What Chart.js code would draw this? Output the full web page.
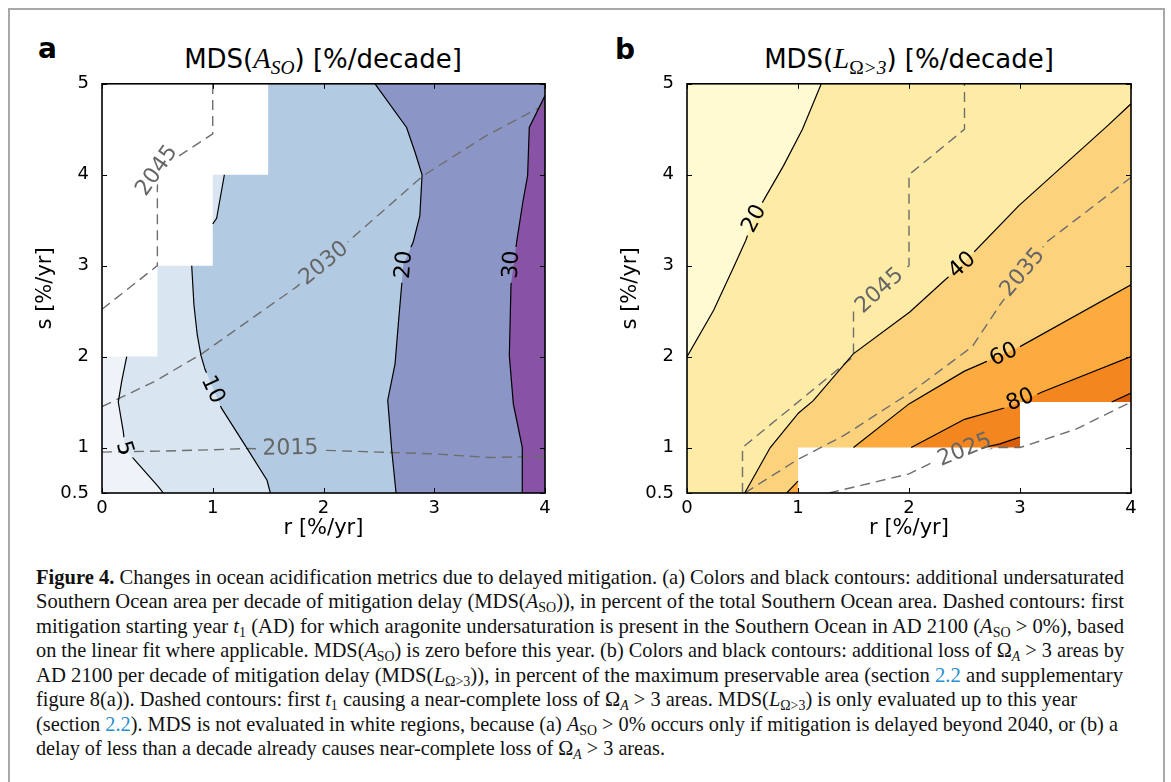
<!DOCTYPE html>
<html>
<head>
<meta charset="utf-8">
<script src="https://cdn.jsdelivr.net/npm/chart.js@4.4.1/dist/chart.umd.min.js"></script>
<style>
  body { margin: 0; width: 1171px; height: 782px; background: #fff; overflow: hidden; position: relative; font-family: 'DejaVu Sans', sans-serif; }
  .frame { position: absolute; left: 8px; top: 8px; width: 1157px; height: 900px; border: 2px solid #a8a8a8; box-sizing: border-box; }
  .letter { position: absolute; font: bold 28px 'DejaVu Sans'; line-height: 34px; }
  .title { position: absolute; width: 520px; text-align: center; font-size: 26px; line-height: 30px; white-space: nowrap; }
  .m { font-family: 'Liberation Serif', serif; font-style: italic; font-size: 1.1em; }
  .m sub { font-size: 0.68em; vertical-align: -0.3em; line-height: 0; }
  .up { font-style: normal; }
  canvas { position: absolute; }
  .caption { position: absolute; left: 36px; top: 565px; font-family: 'Liberation Serif', serif; font-size: 22px; line-height: 24.45px; color: #111; }
  .caption div { white-space: nowrap; width: max-content; transform-origin: 0 0; }
  .caption sub { font-size: 0.68em; vertical-align: -0.25em; line-height: 0; }
  .lk { color: #2a8fcb; }
</style>
</head>
<body>
<div class="frame"></div>
<div class="letter" style="left:38px; top:32px;">a</div>
<div class="letter" style="left:615px; top:33px;">b</div>
<div class="title" style="left:63px; top:44px;">MDS(<span class="m">A<sub>SO</sub></span>) [%/decade]</div>
<div class="title" style="left:649px; top:44px;">MDS(<span class="m">L<sub><span class="up">Ω</span>&gt;3</sub></span>) [%/decade]</div>
<canvas id="chartA" width="585" height="490" style="left:0px; top:60px;"></canvas>
<canvas id="chartB" width="586" height="490" style="left:585px; top:60px;"></canvas>

<div class="caption" id="caption">
<div data-w="1088"><b>Figure 4.</b> Changes in ocean acidification metrics due to delayed mitigation. (a) Colors and black contours: additional undersaturated</div>
<div data-w="1088">Southern Ocean area per decade of mitigation delay (MDS(<i>A</i><sub>SO</sub>)), in percent of the total Southern Ocean area. Dashed contours: first</div>
<div data-w="1088">mitigation starting year <i>t</i><sub>1</sub> (AD) for which aragonite undersaturation is present in the Southern Ocean in AD 2100 (<i>A</i><sub>SO</sub> &gt; 0%), based</div>
<div data-w="1088">on the linear fit where applicable. MDS(<i>A</i><sub>SO</sub>) is zero before this year. (b) Colors and black contours: additional loss of Ω<sub><i>A</i></sub> &gt; 3 areas by</div>
<div data-w="1087">AD 2100 per decade of mitigation delay (MDS(<i>L</i><sub>Ω&gt;3</sub>)), in percent of the maximum preservable area (section <span class="lk">2.2</span> and supplementary</div>
<div data-w="1041">figure 8(a)). Dashed contours: first <i>t</i><sub>1</sub> causing a near-complete loss of Ω<sub><i>A</i></sub> &gt; 3 areas. MDS(<i>L</i><sub>Ω&gt;3</sub>) is only evaluated up to this year</div>
<div data-w="1082">(section <span class="lk">2.2</span>). MDS is not evaluated in white regions, because (a) <i>A</i><sub>SO</sub> &gt; 0% occurs only if mitigation is delayed beyond 2040, or (b) a</div>
<div data-w="629">delay of less than a decade already causes near-complete loss of Ω<sub><i>A</i></sub> &gt; 3 areas.</div>
</div>

<script>
// axes
const rTicks = [0, 1, 2, 3, 4];
const sTicks = [0.5, 1, 2, 3, 4, 5];

// panel a: MDS(A_SO) contours at 5, 10, 20, 30 %/decade
const a05R = [0.554, 0.508, 0.283, 0.208, 0.193, 0.147, 0.178, 0.223];
const a05S = [0.5, 0.57, 0.88, 0.99, 1.17, 1.5, 1.73, 2.0];
const a10LowR = [1.52, 1.49, 1.31, 1.08, 0.93, 0.894, 0.86, 0.83, 0.81];
const a10LowS = [0.5, 0.64, 0.99, 1.43, 1.86, 2.01, 2.24, 2.57, 3.0];
const a10UpR = [1.0, 1.035, 1.105];
const a10UpS = [3.46, 3.52, 4.0];
const a20R = [2.655, 2.616, 2.58, 2.646, 2.675, 2.706, 2.72, 2.81, 2.87, 2.89, 2.826, 2.75, 2.465];
const a20S = [0.5, 0.97, 1.52, 1.92, 2.35, 2.79, 3.01, 3.26, 3.55, 4.0, 4.25, 4.52, 5.0];
const a30R = [3.8, 3.795, 3.714, 3.678, 3.693, 3.744, 3.8, 3.843, 3.858, 4.0];
const a30S = [0.5, 1.0, 1.48, 2.01, 2.79, 3.26, 3.7, 3.99, 4.52, 4.87];
// panel a: first mitigation year t1 (dashed)
const a2015R = [0, 0.5, 1.0, 1.3, 2.0, 2.5, 3.0, 3.5, 4.0];
const a2015S = [0.95, 0.96, 0.975, 0.99, 0.97, 0.95, 0.93, 0.89, 0.905];
const a2030R = [0, 0.48, 0.9, 1.76, 2.9, 3.47, 4.0];
const a2030S = [1.45, 1.73, 2.03, 2.77, 3.99, 4.43, 4.77];
const a2045R = [0, 0.5, 0.5, 1.0, 1.0];
const a2045S = [2.52, 3.0, 4.05, 4.45, 5.0];
// panel a: not evaluated
const aBlankR = [0, 0.5, 0.5, 1.0, 1.0, 1.5, 1.5, 0];
const aBlankS = [2, 2, 3, 3, 4, 4, 5, 5];
const aColors = ['#edf3f8', '#d9e6f1', '#b3cbe2', '#8c96c6', '#8853a5'];

// panel b: MDS(L_Omega>3) contours at 20, 40, 60, 80, 100 %/decade
const b20R = [0, 0.24, 0.43, 0.53, 0.6, 0.7, 0.87, 1.04, 1.21];
const b20S = [2.0, 2.51, 3.01, 3.28, 3.52, 3.74, 4.1, 4.5, 5.0];
const b40R = [0.52, 0.75, 1.005, 1.138, 1.498, 2.007, 2.475, 2.99, 3.79, 4.0];
const b40S = [0.5, 1.0, 1.38, 1.516, 2.03, 2.49, 3.01, 3.66, 4.54, 4.78];
const b60LowR = [0.898, 1.0];
const b60LowS = [0.5, 0.63];
const b60R = [1.5, 2.0, 2.5, 2.65, 3.0, 4.0];
const b60S = [1.0, 1.48, 1.84, 1.92, 2.11, 2.79];
const b80R = [2.02, 2.5, 2.93, 3.2, 4.0];
const b80S = [1.0, 1.31, 1.46, 1.61, 2.0];
const b100R = [2.67, 2.82, 3.0];
const b100S = [1.0, 1.04, 1.115];
const b100EdgeR = [3.826, 4.0];
const b100EdgeS = [1.5, 1.6];
// panel b: first t1 with near-complete loss (dashed)
const b2025R = [1.28, 2.0, 2.2, 2.5, 2.8, 3.0, 3.5, 4.0];
const b2025S = [0.5, 0.71, 0.83, 0.95, 1.0, 1.0, 1.2, 1.5];
const b2035R = [0.52, 1.0, 1.41, 2.02, 2.57, 2.82, 3.24, 4.0];
const b2035S = [0.5, 0.87, 1.13, 1.61, 2.11, 2.57, 3.26, 3.97];
const b2045R = [0.5, 0.5, 1.5, 1.5, 2.0, 2.0, 2.5, 2.5];
const b2045S = [0.5, 1.0, 2.0, 2.5, 3.0, 4.0, 4.5, 5.0];
// panel b: not evaluated
const bBlankR = [1, 4, 4, 3, 3, 1];
const bBlankS = [0.5, 0.5, 1.5, 1.5, 1, 1];
const bColors = ['#fffad2', '#feeba6', '#fdd27c', '#fdab3f', '#f3861f', '#da5f0d'];

const LINE = '#000';
const DASH = '#6e6e6e';

function pts(rs, ss) {
    return rs.map((r, i) => ({ x: r, y: ss[i] }));
}

const panelA = {
    base: aColors[0],
    fills: [
        { color: aColors[1], points: pts(a05R, a05S).concat(pts([0.223, 4, 4], [5, 5, 0.5])) },
        { color: aColors[2], points: pts(a10LowR, a10LowS).concat(pts(a10UpR, a10UpS), pts([1.105, 4, 4], [5, 5, 0.5])) },
        { color: aColors[3], points: pts(a20R, a20S).concat(pts([4, 4], [5, 0.5])) },
        { color: aColors[4], points: pts(a30R, a30S).concat(pts([4], [0.5])) }
    ],
    blank: pts(aBlankR, aBlankS),
    lines: [
        { key: 'c5', points: pts(a05R, a05S) },
        { key: 'c10', points: pts(a10LowR, a10LowS) },
        { key: 'c10b', points: pts(a10UpR, a10UpS) },
        { key: 'c20', points: pts(a20R, a20S) },
        { key: 'c30', points: pts(a30R, a30S) },
        { key: 'y2015', points: pts(a2015R, a2015S), dashed: true },
        { key: 'y2030', points: pts(a2030R, a2030S), dashed: true },
        { key: 'y2045', points: pts(a2045R, a2045S), dashed: true }
    ],
    labels: [
        { text: '5', line: 'c5', r: 0.208, s: 0.99, rot: 72 },
        { text: '10', line: 'c10', r: 1.005, s: 1.64, rot: 65 },
        { text: '20', line: 'c20', r: 2.72, s: 3.01, rot: -85 },
        { text: '30', line: 'c30', r: 3.69, s: 3.01, rot: -87 },
        { text: '2015', line: 'y2015', r: 1.70, s: 1.0, rot: -1 },
        { text: '2030', line: 'y2030', r: 2.0, s: 3.03, rot: -39 },
        { text: '2045', line: 'y2045', r: 0.49, s: 4.05, rot: -55 }
    ]
};

const panelB = {
    base: bColors[0],
    fills: [
        { color: bColors[1], points: pts(b20R, b20S).concat(pts([4, 4, 0], [5, 0.5, 0.5])) },
        { color: bColors[2], points: pts(b40R, b40S).concat(pts([4], [0.5])) },
        { color: bColors[3], points: pts(b60LowR, b60LowS).concat(pts(b60R, b60S), pts([4], [0.5])) },
        { color: bColors[4], points: pts(b80R, b80S).concat(pts([4, 2.02], [0.5, 0.5])) },
        { color: bColors[5], points: pts(b100R, b100S).concat(pts(b100EdgeR, b100EdgeS), pts([4, 2.67], [0.5, 0.5])) }
    ],
    blank: pts(bBlankR, bBlankS),
    lines: [
        { key: 'c20', points: pts(b20R, b20S) },
        { key: 'c40', points: pts(b40R, b40S) },
        { key: 'c60a', points: pts(b60LowR, b60LowS) },
        { key: 'c60', points: pts(b60R, b60S) },
        { key: 'c80', points: pts(b80R, b80S) },
        { key: 'c100', points: pts(b100R, b100S) },
        { key: 'c100b', points: pts(b100EdgeR, b100EdgeS) },
        { key: 'y2025', points: pts(b2025R, b2025S), dashed: true },
        { key: 'y2035', points: pts(b2035R, b2035S), dashed: true },
        { key: 'y2045', points: pts(b2045R, b2045S), dashed: true }
    ],
    labels: [
        { text: '20', line: 'c20', r: 0.6, s: 3.52, rot: -62 },
        { text: '40', line: 'c40', r: 2.475, s: 3.01, rot: -42 },
        { text: '60', line: 'c60', r: 2.85, s: 2.03, rot: -25 },
        { text: '80', line: 'c80', r: 3.0, s: 1.53, rot: -22 },
        { text: '2025', line: 'y2025', r: 2.5, s: 0.98, rot: -22 },
        { text: '2035', line: 'y2035', r: 3.02, s: 2.93, rot: -50 },
        { text: '2045', line: 'y2045', r: 1.73, s: 2.73, rot: -42 }
    ]
};

const LABEL_FONT = "22px 'DejaVu Sans'";

function tracePolygon(ctx, x, y, points) {
    ctx.beginPath();
    points.forEach((p, i) => {
        const px = x.getPixelForValue(p.x);
        const py = y.getPixelForValue(p.y);
        if (i === 0) ctx.moveTo(px, py); else ctx.lineTo(px, py);
    });
    ctx.closePath();
}

// rotated box around a contour label, so the line gets a gap there
function labelBox(ctx, x, y, lab) {
    ctx.font = LABEL_FONT;
    const w = ctx.measureText(lab.text).width / 2 + 4;
    const h = 9;
    const cx = x.getPixelForValue(lab.r);
    const cy = y.getPixelForValue(lab.s);
    const a = lab.rot * Math.PI / 180;
    const c = Math.cos(a), s = Math.sin(a);
    const corners = [[-w, -h], [w, -h], [w, h], [-w, h]];
    corners.forEach(([dx, dy], i) => {
        const px = cx + dx * c - dy * s;
        const py = cy + dx * s + dy * c;
        if (i === 0) ctx.moveTo(px, py); else ctx.lineTo(px, py);
    });
    ctx.closePath();
}

function contourPlugin(panel) {
    return {
        id: 'contours',
        beforeDatasetsDraw(chart) {
            const { ctx, chartArea: area, scales: { x, y } } = chart;
            ctx.save();
            ctx.beginPath();
            ctx.rect(area.left, area.top, area.width, area.height);
            ctx.clip();
            ctx.fillStyle = panel.base;
            ctx.fillRect(area.left, area.top, area.width, area.height);
            panel.fills.forEach(f => {
                tracePolygon(ctx, x, y, f.points);
                ctx.fillStyle = f.color;
                ctx.fill();
            });
            tracePolygon(ctx, x, y, panel.blank);
            ctx.fillStyle = '#fff';
            ctx.fill();
            ctx.restore();
        },
        beforeDatasetDraw(chart, args) {
            const { ctx, scales: { x, y } } = chart;
            const key = panel.lines[args.index].key;
            const own = panel.labels.filter(l => l.line === key);
            ctx.save();
            if (!own.length) return;
            ctx.beginPath();
            ctx.rect(0, 0, chart.width, chart.height);
            own.forEach(l => labelBox(ctx, x, y, l));
            ctx.clip('evenodd');
        },
        afterDatasetDraw(chart) {
            chart.ctx.restore();
        },
        afterDatasetsDraw(chart) {
            const { ctx, scales: { x, y } } = chart;
            ctx.save();
            ctx.font = LABEL_FONT;
            ctx.textAlign = 'center';
            ctx.textBaseline = 'middle';
            panel.labels.forEach(l => {
                const dashed = panel.lines.find(d => d.key === l.line).dashed;
                ctx.save();
                ctx.translate(x.getPixelForValue(l.r), y.getPixelForValue(l.s));
                ctx.rotate(l.rot * Math.PI / 180);
                ctx.fillStyle = dashed ? '#666' : '#000';
                ctx.fillText(l.text, 0, 1);
                ctx.restore();
            });
            ctx.restore();
        },
        afterDraw(chart) {
            // inward ticks on all four sides, then the frame
            const { ctx, chartArea: area, scales: { x, y } } = chart;
            ctx.save();
            ctx.strokeStyle = '#000';
            ctx.lineWidth = 1;
            ctx.beginPath();
            rTicks.forEach(v => {
                const px = Math.round(x.getPixelForValue(v)) + 0.5;
                ctx.moveTo(px, area.bottom); ctx.lineTo(px, area.bottom - 5);
                ctx.moveTo(px, area.top); ctx.lineTo(px, area.top + 5);
            });
            sTicks.forEach(v => {
                const py = Math.round(y.getPixelForValue(v)) + 0.5;
                ctx.moveTo(area.left, py); ctx.lineTo(area.left + 5, py);
                ctx.moveTo(area.right, py); ctx.lineTo(area.right - 5, py);
            });
            ctx.stroke();
            ctx.lineWidth = 1.6;
            ctx.strokeRect(area.left, area.top, area.width, area.height);
            ctx.restore();
        }
    };
}

Chart.defaults.font.family = "'DejaVu Sans'";
Chart.defaults.color = '#000';

function makeChart(canvasId, panel) {
    const datasets = panel.lines.map(l => ({
        data: l.points,
        showLine: true,
        fill: false,
        tension: 0,
        pointRadius: 0,
        pointHitRadius: 0,
        borderColor: l.dashed ? DASH : LINE,
        borderWidth: l.dashed ? 1.4 : 1.2,
        borderDash: l.dashed ? [10, 6] : []
    }));

    return new Chart(document.getElementById(canvasId), {
        type: 'scatter',
        data: { datasets },
        options: {
            responsive: false,
            animation: false,
            devicePixelRatio: 1,
            layout: { padding: { left: 10, right: 40, top: 21, bottom: 7 } },
            plugins: { legend: { display: false }, tooltip: { enabled: false } },
            scales: {
                x: {
                    type: 'linear', min: 0, max: 4,
                    afterBuildTicks: s => { s.ticks = rTicks.map(v => ({ value: v })); },
                    afterFit: s => { s.height = 50; },
                    grid: { display: false, drawTicks: false },
                    border: { display: false },
                    ticks: { color: '#000', font: { size: 18 }, padding: 5, autoSkip: false, maxRotation: 0, callback: v => String(v) },
                    title: { display: true, text: 'r [%/yr]', color: '#000', font: { size: 21 }, padding: { top: 0, bottom: 2 } }
                },
                y: {
                    type: 'linear', min: 0.5, max: 5,
                    afterBuildTicks: s => { s.ticks = sTicks.map(v => ({ value: v })); },
                    afterFit: s => { s.width = 92; },
                    grid: { display: false, drawTicks: false },
                    border: { display: false },
                    ticks: { color: '#000', font: { size: 18 }, padding: 13, autoSkip: false, callback: v => String(v) },
                    title: { display: true, text: 's [%/yr]', color: '#000', font: { size: 21 }, padding: { top: 23, bottom: 0 } }
                }
            }
        },
        plugins: [contourPlugin(panel)]
    });
}

makeChart('chartA', panelA);
makeChart('chartB', panelB);

// stretch each caption line to the measured line width of the figure
document.querySelectorAll('#caption div').forEach(el => {
    const target = parseFloat(el.dataset.w);
    const natural = el.getBoundingClientRect().width;
    el.style.transform = 'scaleX(' + (target / natural).toFixed(4) + ')';
});
</script>
</body>
</html>
